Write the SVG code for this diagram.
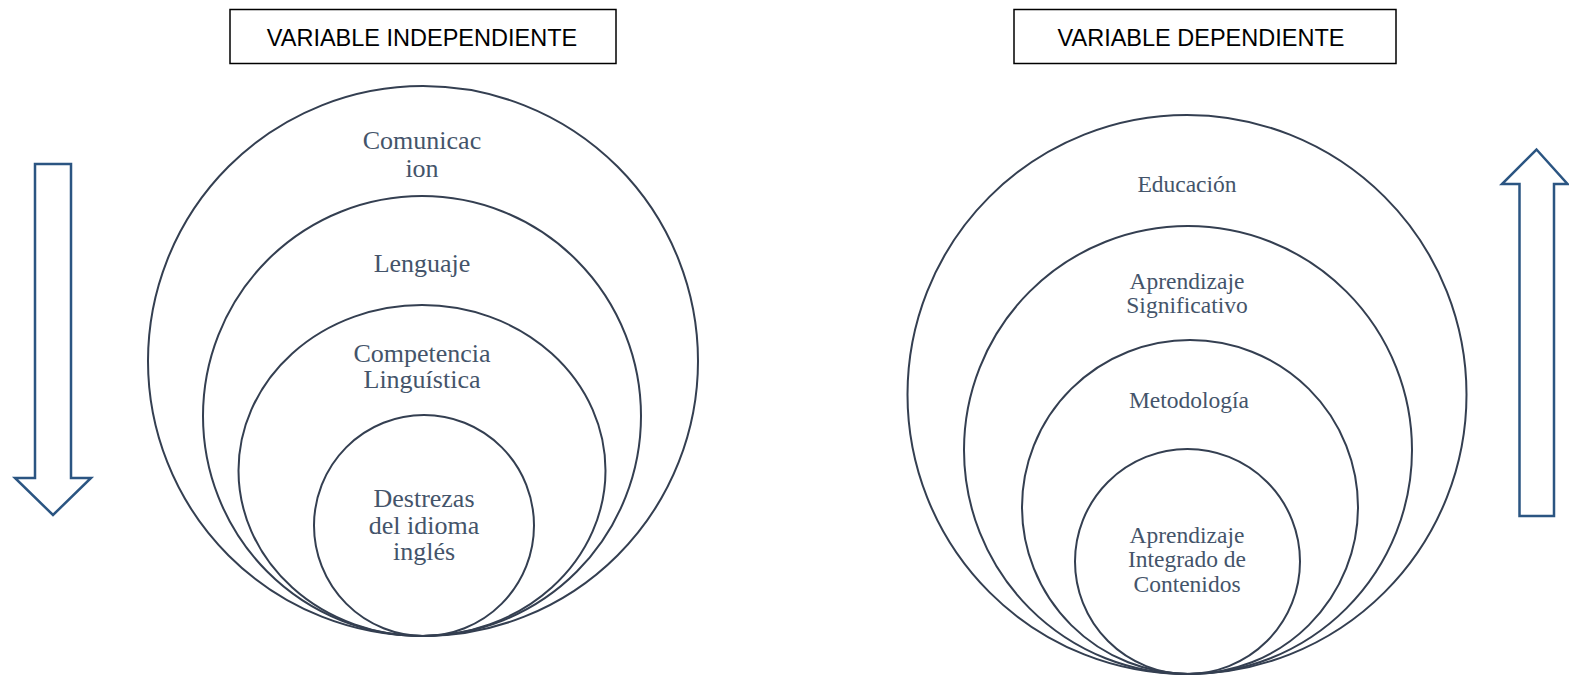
<svg xmlns="http://www.w3.org/2000/svg" width="1569" height="676" viewBox="0 0 1569 676">
<style>
.hdr{fill:#fff;stroke:#000;stroke-width:1.5}
.ht{font-family:"Liberation Sans",Arial,sans-serif;font-size:23.5px;fill:#000;text-anchor:middle}
.c{fill:none;stroke:#343F51;stroke-width:2}
.tl{font-family:"Liberation Serif","Times New Roman",serif;font-size:26px;fill:#44546A;text-anchor:middle}
.tr{font-family:"Liberation Serif","Times New Roman",serif;font-size:23.5px;fill:#44546A;text-anchor:middle}
.arr{fill:#fff;stroke:#2B5582;stroke-width:2.5;stroke-linejoin:miter}
</style>
<rect width="1569" height="676" fill="#fff"/>
<g id="hdr-indep">
<rect class="hdr" x="230" y="9.5" width="386" height="54"/>
<text class="ht" x="422" y="46">VARIABLE INDEPENDIENTE</text>
</g>
<g id="hdr-dep">
<rect class="hdr" x="1014" y="9.5" width="382" height="54"/>
<text class="ht" x="1201" y="46">VARIABLE DEPENDIENTE</text>
</g>
<g id="arrow-down">
<polygon class="arr" points="35,164 71,164 71,478 91,478 53,515 15,478 35,478"/>
</g>
<g id="arrow-up">
<polygon class="arr" points="1536.5,149.5 1567.5,184 1554,184 1554,516 1519.5,516 1519.5,184 1502,184"/>
</g>
<g id="comunicacion">
<circle class="c" cx="423" cy="361" r="275"/>
<text class="tl" x="422" y="149">Comunicac</text>
<text class="tl" x="422" y="177">ion</text>
</g>
<g id="lenguaje">
<ellipse class="c" cx="422" cy="416" rx="219" ry="220"/>
<text class="tl" x="422" y="272">Lenguaje</text>
</g>
<g id="competencia">
<ellipse class="c" cx="422" cy="470.5" rx="183.5" ry="165.5"/>
<text class="tl" x="422" y="362">Competencia</text>
<text class="tl" x="422" y="388">Linguística</text>
</g>
<g id="destrezas">
<ellipse class="c" cx="424" cy="525.5" rx="110" ry="110.5"/>
<text class="tl" x="424" y="507">Destrezas</text>
<text class="tl" x="424" y="533.5">del idioma</text>
<text class="tl" x="424" y="560">inglés</text>
</g>
<g id="educacion">
<circle class="c" cx="1187" cy="394.5" r="279.5"/>
<text class="tr" x="1187" y="192">Educación</text>
</g>
<g id="aprendizaje-significativo">
<circle class="c" cx="1188" cy="450" r="224"/>
<text class="tr" x="1187" y="289">Aprendizaje</text>
<text class="tr" x="1187" y="313">Significativo</text>
</g>
<g id="metodologia">
<ellipse class="c" cx="1190" cy="507" rx="168" ry="167"/>
<text class="tr" x="1189" y="408">Metodología</text>
</g>
<g id="aicle">
<circle class="c" cx="1187.5" cy="561.5" r="112.5"/>
<text class="tr" x="1187" y="543">Aprendizaje</text>
<text class="tr" x="1187" y="567">Integrado de</text>
<text class="tr" x="1187" y="592">Contenidos</text>
</g>
<g id="connectors"></g>
</svg>
